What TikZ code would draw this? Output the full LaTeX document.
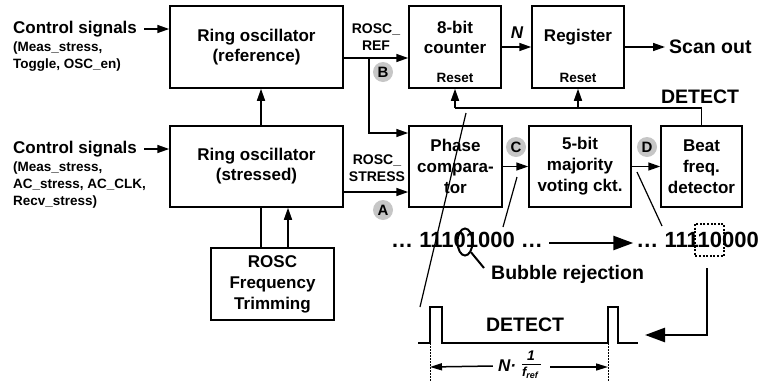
\documentclass[tikz,border=0pt]{standalone}
\usepackage{fontspec}
\setmainfont{Liberation Sans}
\usetikzlibrary{arrows.meta,shapes.geometric}
\begin{document}
\begin{tikzpicture}[x=1pt,y=-1pt,
  box/.style={draw, line width=1.5pt, inner sep=0pt, align=center, font=\bfseries\fontsize{17}{20}\selectfont},
  box3/.style={box, font=\bfseries\fontsize{17}{21}\selectfont},
  lbl/.style={inner sep=0pt, align=center, font=\bfseries\fontsize{17}{20}\selectfont},
  rst/.style={inner sep=0pt, font=\bfseries\fontsize{13.5}{16}\selectfont},
  sml/.style={inner sep=0pt, align=left, font=\bfseries\fontsize{13.5}{17}\selectfont},
  sig/.style={inner sep=0pt, align=center, font=\bfseries\fontsize{14}{17}\selectfont},
  big/.style={inner sep=0pt, font=\bfseries\fontsize{17}{20}\selectfont},
  huge/.style={inner sep=0pt, font=\bfseries\fontsize{19.5}{22}\selectfont},
  bits/.style={inner sep=0pt, font=\bfseries\fontsize{22}{24}\selectfont},
  circ/.style={circle, fill=gray!45, minimum size=20pt, inner sep=0pt, font=\bfseries\fontsize{15}{15}\selectfont},
  ln/.style={line width=1.5pt},
  arr/.style={ln, -{Triangle[length=12pt,width=8pt]}},
  thk/.style={line width=2.6pt},
  bigarr/.style={thk, -{Triangle[length=20pt,width=14pt]}},
  dimarr/.style={line width=1.5pt, -{Triangle[length=12pt,width=7pt]}}
]
\useasboundingbox (0,0) rectangle (761,381);

% boxes
\node[box, minimum width=173pt, minimum height=82pt] (refosc) at (256.5,47) {Ring oscillator\\(reference)};
\node[box, minimum width=173pt, minimum height=81pt] (strosc) at (256.5,166.5) {Ring oscillator\\(stressed)};
\node[box3, minimum width=123pt, minimum height=72pt] (trim) at (272.5,284) {ROSC\\Frequency\\Trimming};
\node[box, minimum width=92pt, minimum height=82pt] (cnt) at (455,47) {};
\node[lbl] (cnttxt) at (455,37) {8-bit\\counter};
\node[rst] (cntrst) at (455,78) {Reset};
\node[box, minimum width=92pt, minimum height=82pt] (reg) at (578,47) {};
\node[lbl] (regtxt) at (578,37) {Register};
\node[rst] (regrst) at (578,78) {Reset};
\node[box3, minimum width=93pt, minimum height=81pt] (phase) at (455.5,166.5) {Phase\\compara-\\tor};
\node[box3, minimum width=102pt, minimum height=81pt] (maj) at (580,166.5) {5-bit\\majority\\voting ckt.};
\node[box3, minimum width=81pt, minimum height=81pt] (beat) at (701.5,166.5) {Beat\\freq.\\detector};

% control signals
\node[big, anchor=west] (ctrl1) at (13,29) {Control signals};
\node[sml, anchor=west] (ctrl1b) at (13,56.5) {(Meas\_stress,\\Toggle, OSC\_en)};
\node[big, anchor=west] (ctrl2) at (13,149) {Control signals};
\node[sml, anchor=west] (ctrl2b) at (13,185) {(Meas\_stress,\\AC\_stress, AC\_CLK,\\Recv\_stress)};
\draw[arr] ([xshift=7pt]ctrl1.east) -- (refosc.west |- ctrl1.east);
\draw[arr] ([xshift=7pt]ctrl2.east) -- (strosc.west |- ctrl2.east);

% oscillator links
\draw[arr] ([xshift=4.5pt]strosc.north) -- ([xshift=4.5pt]refosc.south);
\draw[ln] ([xshift=-11.5pt]trim.north) -- ([xshift=4.5pt]strosc.south);
\draw[arr] ([xshift=15.5pt]trim.north) -- ([xshift=31.5pt]strosc.south);

% ROSC_REF
\coordinate (refout) at ([yshift=-11pt]refosc.east);
\coordinate (br) at (369,58);
\draw[arr] (refout) -- (cnt.west |- refout);
\draw[arr] (br) |- ([yshift=33.5pt]phase.west);
\node[sig] (rref) at (376,37) {ROSC\_\\REF};
\node[circ] (cB) at (383,72) {B};

% ROSC_STRESS
\draw[arr] ([yshift=-25.5pt]strosc.east) -- ([yshift=-25.5pt]phase.west);
\node[sig] (rstr) at (377,168) {ROSC\_\\STRESS};
\node[circ] (cA) at (383,210) {A};

% chain
\draw[arr] (phase.east) -- (maj.west);
\draw[arr] (maj.east) -- (beat.west);
\node[circ] (cC) at (516,147) {C};
\node[circ] (cD) at (647,147) {D};
\draw[arr] (cnt.east) -- (reg.west);
\node[big, font=\bfseries\itshape\fontsize{17}{20}\selectfont] (N) at (517,33) {N};
\node[huge, anchor=west] (scan) at (669,47) {Scan out};
\draw[arr] (reg.east) -- ([xshift=-4pt]scan.west);

% DETECT feedback
\coordinate (dt) at (701.5,108);
\draw[ln] (beat.north) -- (dt) -- (cnt.south |- dt);
\draw[arr] (cnt.south |- dt) -- (cnt.south);
\draw[arr] (reg.south |- dt) -- (reg.south);
\node[huge] (detlbl) at (700,97) {DETECT};

% bit streams
\node[bits, anchor=west] (bs1) at (391,240) {… 11101000 …};
\node[bits, anchor=east] (bs2) at (759,240) {… 11110000};
\draw[bigarr] ([xshift=6pt,yshift=-3pt]bs1.east) -- ([xshift=-3pt,yshift=-3pt]bs2.west);
\node[draw, ellipse, line width=2pt, minimum width=15pt, minimum height=27pt, inner sep=0pt] (bub) at (465,242) {};
\coordinate (hnd) at (484,268);
\draw[line width=2pt] (bub.south east) -- (hnd);
\node[huge, anchor=west] (bubtxt) at (491,274) {Bubble rejection};
\draw[line width=1.2pt, dash pattern=on 2pt off 1.6pt] (695,224) rectangle (724,256);

% pointer lines
\coordinate (p1a) at (466,113); \coordinate (p1b) at (420,307);
\draw[line width=1.2pt] (p1a) -- (p1b);
\coordinate (pCa) at (517,177); \coordinate (pCb) at (503,227);
\draw[line width=1.2pt] (pCa) -- (pCb);
\coordinate (pDa) at (637,172); \coordinate (pDb) at (662,226);
\draw[line width=1.2pt] (pDa) -- (pDb);

% DETECT waveform
\draw[thk] (418,343) -- (430,343) -- (430,307) -- (442,307) -- (442,343) -- (608,343) -- (608,307) -- (618,307) -- (618,343) -- (638,343);
\node[huge] (wdet) at (525,325) {DETECT};
\coordinate (da) at (707,268); \coordinate (db) at (707,335); \coordinate (dc) at (645,335);
\draw[bigarr] (da) -- (db) -- (dc);

% dimension
\draw[line width=1pt, dash pattern=on 1.5pt off 1.5pt] (430,343) -- (430,381);
\draw[line width=1pt, dash pattern=on 1.5pt off 1.5pt] (608,343) -- (608,381);
\node[big, font=\bfseries\itshape\fontsize{17}{20}\selectfont] (Nd) at (507,366) {N·};
\node[inner sep=0pt, font=\bfseries\itshape\fontsize{14}{14}\selectfont] (one) at (531,356) {1};
\draw[line width=1.3pt] (522,364.5) -- (541,364.5);
\node[inner sep=0pt, anchor=north, font=\bfseries\itshape\fontsize{13}{13}\selectfont] (fref) at (530,366.5) {f\raisebox{-2pt}{\fontsize{9}{9}\selectfont ref}};
\draw[dimarr] ([xshift=-5pt]Nd.west) -- (430,367);
\draw[dimarr] (550,367) -- (608,367);
\end{tikzpicture}
\end{document}
